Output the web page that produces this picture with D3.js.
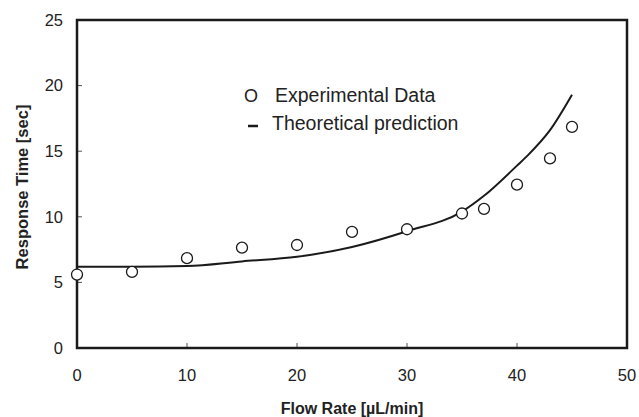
<!DOCTYPE html>
<html>
<head>
<meta charset="utf-8">
<script src="https://cdn.jsdelivr.net/npm/d3@7"></script>
<style>
  body { margin: 0; background: #fff; }
  text { font-family: Arial, "Liberation Sans", sans-serif; fill: #222; }
</style>
</head>
<body>
<div id="chart"></div>
<script>
// experimental points
const expFlow = [0, 5, 10, 15, 20, 25, 30, 35, 37, 40, 43, 45];
const expTime = [5.6, 5.8, 6.85, 7.65, 7.85, 8.85, 9.05, 10.25, 10.6, 12.45, 14.45, 16.85];

// theoretical curve
const thFlow = [0, 5, 10, 15, 20, 25, 30, 35, 37, 40, 41, 43, 45];
const thTime = [6.2, 6.2, 6.25, 6.6, 6.95, 7.7, 8.9, 10.4, 11.6, 13.9, 14.7, 16.6, 19.3];

const xTicks = [0, 10, 20, 30, 40, 50];
const yTicks = [0, 5, 10, 15, 20, 25];

const width = 639, height = 417;
const margin = {left: 77, top: 20, right: 12, bottom: 69};

const svg = d3.select("#chart").append("svg")
    .attr("width", width)
    .attr("height", height);

const x = d3.scaleLinear().domain([0, 50]).range([margin.left, width - margin.right]);
const y = d3.scaleLinear().domain([0, 25]).range([height - margin.bottom, margin.top]);

// tick marks inward
svg.append("g")
    .selectAll("line")
    .data(xTicks.slice(1, -1))
    .enter().append("line")
    .attr("x1", d => x(d)).attr("x2", d => x(d))
    .attr("y1", y(0)).attr("y2", y(0) - 5)
    .attr("stroke", "#555").attr("stroke-width", 1);

svg.append("g")
    .selectAll("line")
    .data(yTicks.slice(1, -1))
    .enter().append("line")
    .attr("x1", x(0)).attr("x2", x(0) + 5)
    .attr("y1", d => y(d)).attr("y2", d => y(d))
    .attr("stroke", "#555").attr("stroke-width", 1);

// tick labels
svg.append("g")
    .selectAll("text")
    .data(xTicks)
    .enter().append("text")
    .attr("x", d => x(d))
    .attr("y", y(0) + 33)
    .attr("text-anchor", "middle")
    .style("font-size", "16.5px")
    .text(d => d);

svg.append("g")
    .selectAll("text")
    .data(yTicks)
    .enter().append("text")
    .attr("x", x(0) - 14)
    .attr("y", d => y(d))
    .attr("dy", "0.35em")
    .attr("text-anchor", "end")
    .style("font-size", "16.5px")
    .text(d => d);

// axis titles
svg.append("text")
    .attr("x", (x(0) + x(50)) / 2)
    .attr("y", 414)
    .attr("text-anchor", "middle")
    .style("font-size", "16px")
    .style("font-weight", "bold")
    .text("Flow Rate [\u00b5L/min]");

svg.append("text")
    .attr("transform", `translate(28, ${(y(0) + y(25)) / 2 + 3}) rotate(-90)`)
    .attr("text-anchor", "middle")
    .style("font-size", "16.5px")
    .style("font-weight", "bold")
    .text("Response Time [sec]");

// theoretical line
const line = d3.line()
    .x(d => x(d[0]))
    .y(d => y(d[1]))
    .curve(d3.curveMonotoneX);

svg.append("path")
    .datum(d3.zip(thFlow, thTime))
    .attr("d", line)
    .attr("fill", "none")
    .attr("stroke", "#1a1a1a")
    .attr("stroke-width", 2);

// frame
svg.append("rect")
    .attr("x", x(0)).attr("y", y(25))
    .attr("width", x(50) - x(0))
    .attr("height", y(0) - y(25))
    .attr("fill", "none")
    .attr("stroke", "#1a1a1a")
    .attr("stroke-width", 2.5);

// experimental circles
svg.append("g")
    .selectAll("circle")
    .data(d3.zip(expFlow, expTime))
    .enter().append("circle")
    .attr("cx", d => x(d[0]))
    .attr("cy", d => y(d[1]))
    .attr("r", 5.5)
    .attr("fill", "#fff")
    .attr("stroke", "#1a1a1a")
    .attr("stroke-width", 1.3);

// legend
const lg = svg.append("g");
lg.append("text")
    .attr("x", 244).attr("y", 102)
    .style("font-size", "18px")
    .text("O");
lg.append("text")
    .attr("x", 275).attr("y", 102)
    .style("font-size", "19.5px")
    .text("Experimental Data");
lg.append("line")
    .attr("x1", 248).attr("x2", 258)
    .attr("y1", 126).attr("y2", 126)
    .attr("stroke", "#1a1a1a")
    .attr("stroke-width", 2.5);
lg.append("text")
    .attr("x", 272).attr("y", 130)
    .style("font-size", "19.5px")
    .text("Theoretical prediction");
</script>
</body>
</html>
